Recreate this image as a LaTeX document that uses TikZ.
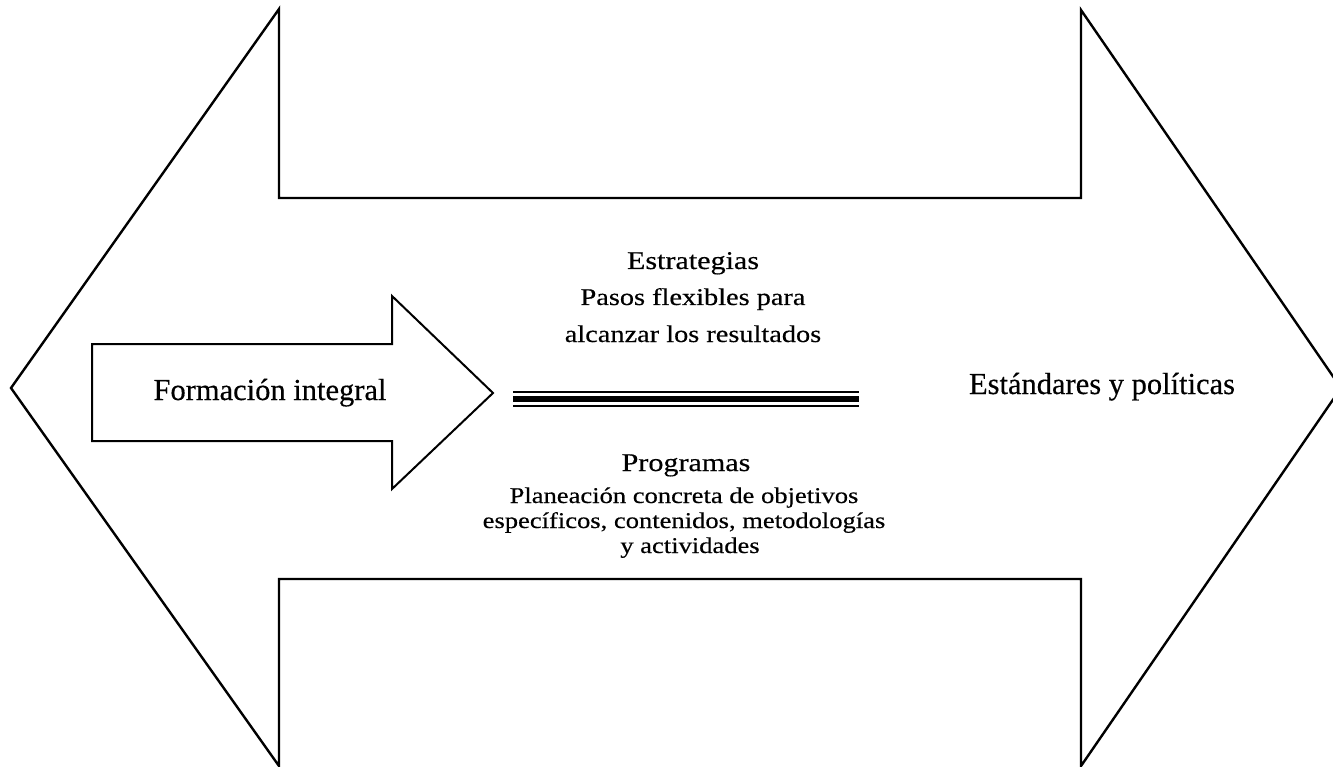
\documentclass[tikz,border=0pt]{standalone}
\usepackage{fontspec}
\newfontfamily\diafont[FakeStretch=1.18, FakeBold=0.4]{Liberation Serif}
\newfontfamily\plainfont[FakeBold=0.4]{Liberation Serif}
\tikzset{
  outline/.style={draw=black, line width=2.4pt, line join=miter},
  inner/.style={draw=black, line width=2pt, line join=miter},
  title/.style={font=\diafont\fontsize{25.5}{28}\selectfont, anchor=base, inner sep=0pt},
  body/.style={font=\diafont\fontsize{24}{27}\selectfont, anchor=base, inner sep=0pt},
  lowbody/.style={font=\diafont\fontsize{22.5}{25}\selectfont, anchor=base, inner sep=0pt},
  big/.style={font=\plainfont\fontsize{30.5}{34}\selectfont, anchor=base, inner sep=0pt},
}
\begin{document}
\begin{tikzpicture}[x=1pt, y=-1pt]
\useasboundingbox[fill=white] (0,0) rectangle (1333,767);
\begin{scope}
\clip (0,0) rectangle (1333,767);
% big double arrow
\draw[outline] (11,388) -- (279,9) -- (279,198) -- (1081,198) -- (1081,10)
  -- (1341,388) -- (1081,766) -- (1081,579) -- (279,579) -- (279,766) -- cycle;
\end{scope}
% inner arrow
\draw[inner] (92,344) -- (392,344) -- (392,296) -- (493,393) -- (392,489)
  -- (392,441) -- (92,441) -- cycle;
% triple line
\draw[line width=1.8pt] (513,391.7) -- (859,391.7);
\draw[line width=6.5pt] (513,399.2) -- (859,399.2);
\draw[line width=1.8pt] (513,406) -- (859,406);
% texts
\node[big] (form) at (270,400) {Formación integral};
\node[big] (estd) at (1102,394) {Estándares y políticas};
\node[title] (estr) at (693,269) {Estrategias};
\node[body] (estr1) at (693,305) {Pasos flexibles para};
\node[body] (estr2) at (693,342) {alcanzar los resultados};
\node[title] (prog) at (686,471) {Programas};
\node[lowbody] (prog1) at (684,503) {Planeación concreta de objetivos};
\node[lowbody] (prog2) at (684,528) {específicos, contenidos, metodologías};
\node[lowbody] (prog3) at (690,553) {y actividades};
\end{tikzpicture}
\end{document}
